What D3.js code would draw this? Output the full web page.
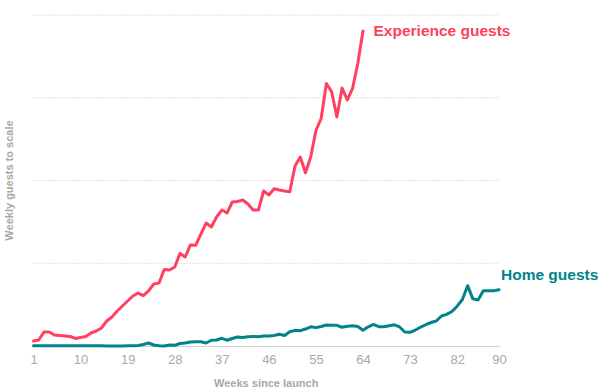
<!DOCTYPE html>
<html>
<head>
<meta charset="utf-8">
<script src="https://cdn.jsdelivr.net/npm/d3@7"></script>
<style>
  html, body { margin: 0; padding: 0; background: #fff; }
  svg { display: block; }
  text { font-family: "Liberation Sans", Arial, sans-serif; }
</style>
</head>
<body>
<svg id="chart" width="600" height="392"></svg>
<script>
// ---- Data (units: gridline spacing = 1) ----
const weeks = d3.range(1, 91);

const experienceGuests = [
  0.060, 0.073, 0.169, 0.169, 0.133, 0.127, 0.121, 0.115, 0.091, 0.103,
  0.115, 0.157, 0.181, 0.218, 0.302, 0.350, 0.423, 0.483, 0.544, 0.604,
  0.640, 0.610, 0.665, 0.749, 0.761, 0.924, 0.918, 0.955, 1.118, 1.076,
  1.221, 1.217, 1.353, 1.486, 1.438, 1.559, 1.643, 1.607, 1.740, 1.746,
  1.764, 1.716, 1.643, 1.643, 1.873, 1.825, 1.901, 1.885, 1.873, 1.865,
  2.175, 2.284, 2.094, 2.284, 2.604, 2.749, 3.172, 3.073, 2.767, 3.118,
  2.973, 3.112, 3.414, 3.807
];

const homeGuests = [
  0.004, 0.004, 0.004, 0.003, 0.003, 0.003, 0.003, 0.003, 0.003, 0.003,
  0.003, 0.002, 0.002, 0.002, 0.001, 0.000, 0.000, 0.001, 0.002, 0.003,
  0.005, 0.018, 0.036, 0.012, 0.004, 0.000, 0.012, 0.008, 0.030, 0.036,
  0.048, 0.051, 0.052, 0.036, 0.070, 0.073, 0.093, 0.070, 0.091, 0.109,
  0.102, 0.111, 0.115, 0.112, 0.121, 0.121, 0.128, 0.141, 0.127, 0.173,
  0.189, 0.185, 0.205, 0.232, 0.222, 0.236, 0.254, 0.250, 0.250, 0.227,
  0.239, 0.244, 0.236, 0.191, 0.232, 0.261, 0.234, 0.233, 0.244, 0.256,
  0.230, 0.169, 0.166, 0.193, 0.227, 0.257, 0.284, 0.302, 0.363, 0.383,
  0.417, 0.481, 0.562, 0.729, 0.570, 0.556, 0.667, 0.668, 0.668, 0.680
];

const xTicks = [1, 10, 19, 28, 37, 46, 55, 64, 73, 82, 90];
const gridValues = [1, 2, 3, 4];
const seriesLabels = ["Experience guests", "Home guests"];
const axisTitles = { x: "Weeks since launch", y: "Weekly guests to scale" };

// ---- Layout ----
const colors = { exp: "#ff4060", home: "#00848a", axisText: "#a3aba3", grid: "#c4c4c4", base: "#d0d0d0" };
const plotLeft = 33.5, plotRight = 499, plotTop = 15, plotBottom = 346;

const svg = d3.select("#chart");
const x = d3.scaleLinear().domain([1, 90]).range([plotLeft, plotRight]);
const y = d3.scaleLinear().domain([0, 4]).range([plotBottom, plotTop]);

// Gridlines (dotted)
svg.append("g").selectAll("line").data(gridValues).join("line")
  .attr("x1", plotLeft).attr("x2", plotRight)
  .attr("y1", d => y(d)).attr("y2", d => y(d))
  .attr("stroke", colors.grid).attr("stroke-width", 1)
  .attr("stroke-dasharray", "1,2");

// X axis
const xAxis = d3.axisBottom(x).tickValues(xTicks).tickSize(0).tickPadding(9).tickFormat(d3.format("d"));
const gx = svg.append("g").attr("transform", `translate(0,${plotBottom})`).call(xAxis);
gx.select(".domain").attr("stroke", colors.base).attr("stroke-width", 1.2);
gx.selectAll("text")
  .attr("fill", colors.axisText)
  .style("font-size", "13px")
  .style("font-family", "'Liberation Sans', Arial, sans-serif");

// Axis titles
svg.append("text")
  .attr("x", plotLeft + (plotRight - plotLeft) / 2)
  .attr("y", 387)
  .attr("text-anchor", "middle")
  .attr("fill", colors.axisText)
  .style("font-size", "11px").style("font-weight", "bold")
  .text(axisTitles.x);

svg.append("text")
  .attr("transform", `translate(13,${(plotTop + plotBottom) / 2}) rotate(-90)`)
  .attr("text-anchor", "middle")
  .attr("fill", colors.axisText)
  .style("font-size", "11px").style("font-weight", "bold")
  .text(axisTitles.y);

// Lines
const line = d3.line().x((d, i) => x(weeks[i])).y(d => y(d)).curve(d3.curveLinear);

svg.append("path").datum(homeGuests)
  .attr("d", line).attr("fill", "none")
  .attr("stroke", colors.home).attr("stroke-width", 3)
  .attr("stroke-linejoin", "round").attr("stroke-linecap", "round");

svg.append("path").datum(experienceGuests)
  .attr("d", line).attr("fill", "none")
  .attr("stroke", colors.exp).attr("stroke-width", 3)
  .attr("stroke-linejoin", "round").attr("stroke-linecap", "round");

// Series labels
svg.append("text")
  .attr("x", x(64) + 10.5)
  .attr("y", 36)
  .attr("fill", colors.exp)
  .style("font-size", "15.5px").style("font-weight", "bold")
  .text(seriesLabels[0]);

svg.append("text")
  .attr("x", x(90) + 2)
  .attr("y", 279.5)
  .attr("fill", colors.home)
  .style("font-size", "15.5px").style("font-weight", "bold")
  .text(seriesLabels[1]);
</script>
</body>
</html>
